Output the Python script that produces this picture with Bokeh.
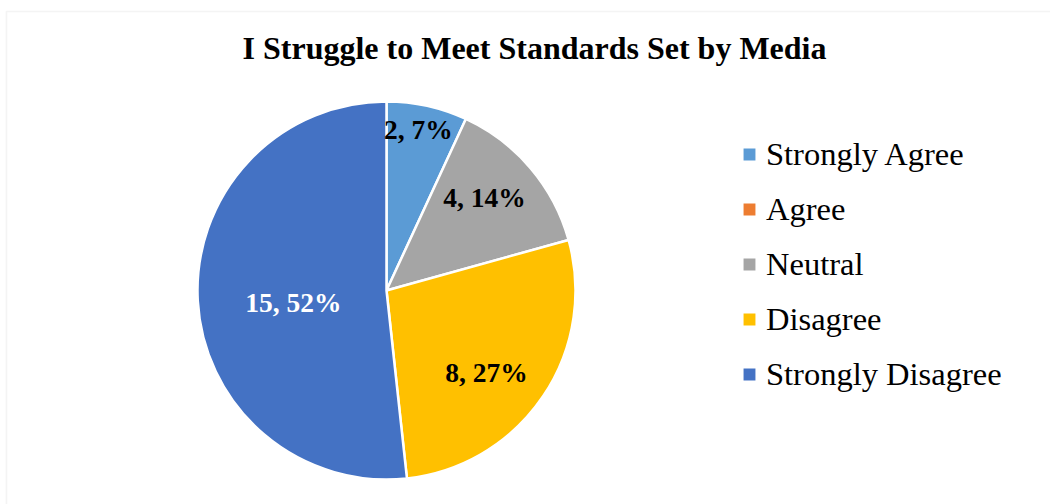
import numpy as np
from bokeh.plotting import figure
from bokeh.models import ColumnDataSource, Range1d, Label, BoxAnnotation, Legend, LegendItem
from bokeh.core.properties import value
from bokeh.embed import file_html
from bokeh.resources import INLINE

# ---- data ----
title_text = "I Struggle to Meet Standards Set by Media"
categories = ["Strongly Agree", "Agree", "Neutral", "Disagree", "Strongly Disagree"]
counts = [2, 0, 4, 8, 15]
pct_labels = ["7%", "0%", "14%", "27%", "52%"]
colors = ["#5B9BD5", "#ED7D31", "#A5A5A5", "#FFC000", "#4472C4"]

# ---- layout (pixels, 1 data unit = 1 px) ----
W, H = 1050, 504
CX, CY, R = 386, 214, 189
label_r = [0.862, 0.0, 0.709, 0.688, 0.497]
label_da = [-1.1, 0.0, -2.7, 5.6, -4.9]
label_colors = ["black", "black", "black", "black", "white"]

total = float(sum(counts))
cum = np.cumsum(counts)
before = cum - np.array(counts)
start = np.pi / 2 - 2 * np.pi * before / total
end = np.pi / 2 - 2 * np.pi * cum / total

nz = [i for i, c in enumerate(counts) if c > 0]
src = ColumnDataSource(dict(category=[categories[i] for i in nz],
                            count=[counts[i] for i in nz],
                            start=[start[i] for i in nz],
                            end=[end[i] for i in nz],
                            color=[colors[i] for i in nz]))

p = figure(width=W, height=H, x_range=Range1d(0, W), y_range=Range1d(0, H),
           output_backend="svg", toolbar_location=None, min_border=0)
p.axis.visible = False
p.grid.visible = False
p.outline_line_color = None
p.background_fill_color = "white"
p.border_fill_color = "white"

# chart area border
p.add_layout(BoxAnnotation(left=6, right=W + 20, bottom=-20, top=H - 11,
                           fill_alpha=0, line_color="#D9D9D9", line_width=1.6))

wr = p.wedge(x=CX, y=CY, radius=R, start_angle="start", end_angle="end", direction="clock",
             fill_color="color", line_color="white", line_width=2.5, source=src)

# legend items (zero-valued categories get an off-frame stand-in swatch renderer)
items = []
for i, cat in enumerate(categories):
    if counts[i] > 0:
        items.append(LegendItem(label=cat, renderers=[wr], index=nz.index(i)))
    else:
        er = p.quad(left=[-60], right=[-50], bottom=[-60], top=[-50],
                    fill_color=colors[i], line_color="white", line_width=2.5)
        items.append(LegendItem(label=cat, renderers=[er]))

# data labels
lx, ly, lt, lc = [], [], [], []
for i, c in enumerate(counts):
    if c <= 0:
        continue
    mid = 360.0 * (cum[i] - c / 2.0) / total + label_da[i]
    th = np.deg2rad(mid)
    lx.append(CX + label_r[i] * R * np.sin(th))
    ly.append(CY + label_r[i] * R * np.cos(th) + 1.5)
    lt.append(f"{c}, {pct_labels[i]}")
    lc.append(label_colors[i])
p.text(x=lx, y=ly, text=lt, text_color=lc, text_align="center", text_baseline="middle",
       text_font=value("Liberation Serif"), text_font_style="bold", text_font_size="27.5px")

# title
p.add_layout(Label(x=534, y=457, text=title_text, text_align="center", text_baseline="middle",
                   text_font="Liberation Serif", text_font_style="bold", text_font_size="32px",
                   text_color="black"))

lg = Legend(items=items, location=(740, 111))
lg.label_text_font = "Liberation Serif"
lg.label_text_font_size = "32.5px"
lg.label_text_color = "black"
lg.glyph_width = 18
lg.glyph_height = 18
lg.label_standoff = 8
lg.label_height = 38
lg.spacing = 17
lg.padding = 0
lg.margin = 0
lg.border_line_color = None
lg.background_fill_alpha = 0
p.add_layout(lg, "center")

open("out.html", "w").write(file_html(p, INLINE))
